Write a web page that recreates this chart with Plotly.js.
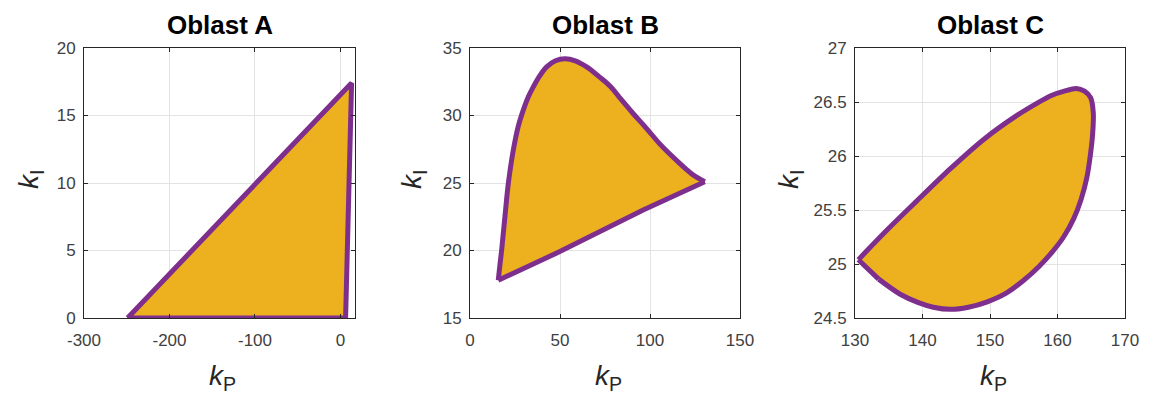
<!DOCTYPE html>
<html>
<head>
<meta charset="utf-8">
<script src="https://cdn.plot.ly/plotly-3.0.1.min.js"></script>
<style>html,body{margin:0;padding:0;background:#fff}#chart{width:1152px;height:403px}</style>
</head>
<body>
<div id="chart"></div>
<script>
// Stability regions in the (kP, kI) plane for three regions
const titles = ['Oblast A', 'Oblast B', 'Oblast C'];

// Oblast A: triangle
const kpA = [-249, 13, 6, -249];
const kiA = [0, 17.4, 0, 0];

// Oblast B: curved upper boundary (lower-left corner to right corner) ...
const kpB = [15.7, 16.6, 17.6, 19.4, 21.3, 24.0, 26.8, 29.6, 32.3, 35.1, 38.8, 42.6, 47.5, 52.7, 58.5, 64.8, 71.5, 78.0, 84.2, 90.6, 98.0, 105.4, 111.0, 116.5, 120.5, 123.9, 127.3, 130.4];
const kiB = [17.8, 18.9, 20.05, 22.5, 24.98, 27.4, 29.2, 30.4, 31.35, 32.1, 32.95, 33.6, 34.05, 34.2, 34.05, 33.6, 32.9, 32.15, 31.15, 30.15, 29.05, 27.9, 27.15, 26.46, 25.98, 25.6, 25.33, 25.1];
// ... and its straight lower boundary
const kpBLow = [130.4, 96.2, 49.9, 15.7];
const kiBLow = [25.1, 23.0, 19.92, 17.8];

// Oblast C: curve running round from the left corner ...
const kpC = [130.5, 135.0, 139.1, 144.1, 149.2, 154.1, 157.0, 159.1, 161.0, 162.8, 164.0, 164.9, 165.3, 165.2, 164.85, 164.35, 163.5, 162.4, 160.9, 159.2, 157.3, 155.0, 152.4, 149.6, 146.8, 144.1, 141.6, 139.3, 136.7, 133.5];
const kiC = [25.04, 25.33, 25.58, 25.88, 26.16, 26.38, 26.49, 26.56, 26.60, 26.625, 26.60, 26.54, 26.40, 26.20, 26.00, 25.80, 25.60, 25.42, 25.25, 25.11, 24.98, 24.85, 24.73, 24.65, 24.60, 24.58, 24.60, 24.645, 24.72, 24.86];
// ... and the short segment back into that corner
const kpCEnd = [133.5, 130.5];
const kiCEnd = [24.86, 25.04];

const xRanges = [[-300, 17], [0, 150], [130, 170]];
const yRanges = [[0, 20], [15, 35], [24.5, 27]];
const xTickVals = [[-300, -200, -100, 0], [0, 50, 100, 150], [130, 140, 150, 160, 170]];
const xTickText = [['-300', '-200', '-100', '0'], ['0', '50', '100', '150'], ['130', '140', '150', '160', '170']];
const yTickVals = [[0, 5, 10, 15, 20], [15, 20, 25, 30, 35], [24.5, 25, 25.5, 26, 26.5, 27]];
const yTickText = [['0', '5', '10', '15', '20'], ['15', '20', '25', '30', '35'], ['24.5', '25', '25.5', '26', '26.5', '27']];

const fillColor = '#EDB120';
const edgeColor = '#7E2F8E';

function region(x, y, sub, shape, fill, smoothing) {
  return {
    x: x, y: y, type: 'scatter', mode: 'lines',
    fill: fill ? 'toself' : 'none', fillcolor: fillColor,
    line: {color: edgeColor, width: 5, shape: shape, smoothing: smoothing || 1},
    xaxis: 'x' + sub, yaxis: 'y' + sub,
    hoverinfo: 'skip', showlegend: false
  };
}

const traces = [
  region(kpA, kiA, '', 'linear', true),
  region(kpB, kiB, '2', 'spline', true, 1),
  region(kpBLow, kiBLow, '2', 'linear', false),
  region(kpC, kiC, '3', 'spline', true, 0.8),
  region(kpCEnd, kiCEnd, '3', 'linear', false)
];

const xDomains = [[84/1152, 355/1152], [470/1152, 740/1152], [855/1152, 1125/1152]];
const yDomain = [1 - 318/403, 1 - 48/403];

const font = 'Liberation Sans, Arial, sans-serif';
const axisBase = {
  showline: true, linecolor: '#262626', linewidth: 1, mirror: 'ticks',
  ticks: 'inside', ticklen: 4, tickcolor: '#262626',
  showgrid: true, gridcolor: '#e3e3e3', gridwidth: 1,
  zeroline: false, tickmode: 'array',
  tickfont: {family: font, size: 17, color: '#404040'}
};

const layout = {
  width: 1152, height: 403,
  margin: {l: 0, r: 0, t: 0, b: 0},
  paper_bgcolor: '#ffffff', plot_bgcolor: '#ffffff',
  showlegend: false,
  annotations: []
};

for (let i = 0; i < 3; i++) {
  const s = i === 0 ? '' : String(i + 1);
  layout['xaxis' + s] = Object.assign({}, axisBase, {
    domain: xDomains[i], range: xRanges[i],
    tickvals: xTickVals[i], ticktext: xTickText[i], ticklabelstandoff: 7,
    anchor: 'y' + s
  });
  layout['yaxis' + s] = Object.assign({}, axisBase, {
    domain: yDomain, range: yRanges[i],
    tickvals: yTickVals[i], ticktext: yTickText[i], ticklabelstandoff: 4,
    anchor: 'x' + s
  });
  const cx = (xDomains[i][0] + xDomains[i][1]) / 2;
  layout.annotations.push({
    text: '<b>' + titles[i] + '</b>', xref: 'paper', yref: 'paper',
    x: cx, y: 1 - 25/403, xanchor: 'center', yanchor: 'middle', showarrow: false,
    font: {family: font, size: 26, color: '#000'}
  });
  layout.annotations.push({
    text: '<i>k</i><sub>P</sub>', xref: 'paper', yref: 'paper',
    x: cx + 3/1152, y: 1 - 377/403, xanchor: 'center', yanchor: 'middle', showarrow: false,
    font: {family: font, size: 28, color: '#262626'}
  });
  const yl = [30, 413, 790][i];
  layout.annotations.push({
    text: '<i>k</i><sub>I</sub>', xref: 'paper', yref: 'paper', textangle: -90,
    x: yl/1152, y: 1 - 180/403, xanchor: 'center', yanchor: 'middle', showarrow: false,
    font: {family: font, size: 28, color: '#262626'}
  });
}

Plotly.newPlot('chart', traces, layout, {displayModeBar: false, staticPlot: true});
</script>
</body>
</html>
